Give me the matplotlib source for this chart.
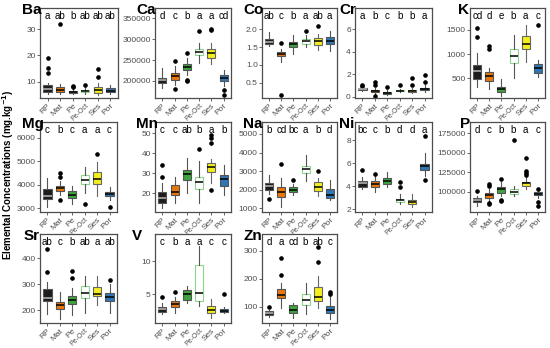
import matplotlib
matplotlib.use("Agg")
import matplotlib.pyplot as plt
from matplotlib.ticker import FormatStrFormatter

plt.rcParams['font.family'] = ['Liberation Sans', 'DejaVu Sans']

groups = ["RP", "Mat", "Pe", "Pe-Oct", "Ses", "Por"]

# box stats per group: [whisker low, q1, median, q3, whisker high]
ba_box = [[5.5, 6.2, 7.4, 8.7, 9.5], [5.5, 6.2, 7.0, 7.8, 9.0], [5.3, 5.8, 6.1, 6.6, 7.5],
          [5.5, 5.9, 6.4, 7.0, 8.0], [5.0, 5.8, 6.8, 8.0, 9.5], [5.2, 5.9, 6.6, 7.6, 8.8]]
ba_out = [[13.4, 15.1, 19.1], [31.9], [7.8, 8.3], [8.8], [11.8, 14.8], []]
ba_sig = ["a", "ab", "b", "ab", "ab", "ab"]

ca_box = [[182000, 195000, 201000, 208000, 230000], [190000, 203000, 211000, 220000, 235000],
          [215000, 227000, 234000, 240000, 255000], [243000, 262000, 269000, 276000, 292000],
          [240000, 256000, 266000, 276000, 290000], [188000, 200000, 207000, 215000, 226000]]
ca_out = [[], [248000, 180000], [266000, 203000, 199000], [320000], [322000, 325000], [178000, 167000]]
ca_sig = ["d", "c", "b", "a", "a", "cd"]

co_box = [[1.52, 1.58, 1.65, 1.72, 1.92], [1.08, 1.25, 1.30, 1.36, 1.45], [1.32, 1.50, 1.58, 1.65, 1.85],
          [1.50, 1.60, 1.66, 1.72, 1.83], [1.42, 1.55, 1.67, 1.77, 1.88], [1.40, 1.60, 1.68, 1.78, 1.95]]
co_out = [[], [1.62, 0.15], [], [1.94], [2.1], []]
co_sig = ["ab", "c", "b", "a", "ab", "a"]

cr_box = [[0.50, 0.60, 0.68, 0.75, 0.90], [0.20, 0.40, 0.50, 0.60, 0.80], [0.15, 0.25, 0.35, 0.45, 0.60],
          [0.40, 0.48, 0.52, 0.58, 0.70], [0.30, 0.40, 0.50, 0.60, 0.80], [0.40, 0.60, 0.70, 0.80, 1.00]]
cr_out = [[0.95, 1.0], [1.3, 1.0, 0.1], [0.85], [1.0], [1.7, 1.0], [1.9, 1.3]]
cr_sig = ["a", "b", "c", "b", "b", "a"]

k_box = [[320, 480, 650, 780, 1020], [280, 440, 550, 640, 720], [130, 220, 270, 330, 490],
         [500, 820, 970, 1110, 1400], [840, 1100, 1220, 1370, 1600], [520, 620, 710, 790, 880]]
k_out = [[1350, 1550], [1100, 1170], [], [], [], [1600]]
k_sig = ["cd", "d", "e", "b", "a", "c"]

mg_box = [[3050, 3400, 3500, 3800, 4300], [3550, 3750, 3850, 3950, 4150], [3200, 3450, 3580, 3750, 3950],
          [3650, 4050, 4220, 4400, 4750], [3500, 4050, 4250, 4550, 4950], [3350, 3500, 3600, 3680, 3900]]
mg_out = [[], [4500, 4350, 3350], [], [3200], [5300], [3050]]
mg_sig = ["c", "b", "c", "a", "a", "c"]

mn_box = [[12.5, 15.0, 17.8, 20.5, 25.0], [15.0, 19.2, 20.8, 24.2, 28.0], [20.0, 26.7, 29.5, 31.7, 37.5],
          [15.0, 22.2, 25.8, 28.3, 36.0], [25.0, 30.8, 33.3, 35.0, 37.0], [19.0, 23.7, 27.0, 29.2, 34.0]]
mn_out = [[28.3, 34.2], [], [], [42.0], [45.0, 47.5, 49.0, 21.8], []]
mn_sig = ["c", "c", "ab", "b", "a", "b"]

na_box = [[1750, 2000, 2180, 2350, 2800], [1050, 1625, 1860, 2160, 2650], [1700, 1880, 2000, 2120, 2300],
          [2450, 2900, 3100, 3300, 3850], [1650, 1950, 2150, 2400, 2650], [1450, 1550, 1700, 2050, 2500]]
na_out = [[1500], [3400], [2500], [], [3000], []]
na_sig = ["b", "cd", "bc", "a", "b", "d"]

ni_box = [[3.8, 3.95, 4.3, 4.5, 4.8], [3.5, 3.95, 4.2, 4.43, 4.9], [3.9, 4.17, 4.5, 4.75, 5.2],
          [2.5, 2.63, 2.8, 2.93, 3.3], [2.2, 2.45, 2.65, 2.85, 3.35], [4.9, 5.45, 5.75, 5.97, 6.9]]
ni_out = [[5.4], [5.1], [], [3.95, 4.35], [], [8.35, 4.58]]
ni_sig = ["bc", "c", "b", "d", "d", "a"]

p_box = [[82000, 86300, 89300, 92300, 95000], [87000, 92300, 95700, 97900, 104000],
         [94000, 97900, 103400, 106400, 112000], [95000, 96600, 100000, 103400, 107000],
         [103000, 107700, 110700, 112900, 120000], [92000, 95700, 97400, 99100, 101000]]
p_out = [[101000], [110000, 107000, 86000, 84000], [116000, 90000, 88000], [167000],
         [143000, 126000, 124000, 122000], [104000, 87000, 82000]]
p_sig = ["d", "c", "b", "b", "a", "c"]

sr_box = [[185, 235, 248, 280, 310], [165, 206, 219, 232, 270], [180, 223, 239, 254, 285],
          [190, 245, 265, 293, 330], [220, 254, 262, 290, 330], [190, 235, 252, 267, 300]]
sr_out = [[348, 435], [], [325, 350], [], [], [315]]
sr_sig = ["ab", "c", "b", "ab", "a", "ab"]

v_box = [[2.0, 2.25, 2.75, 3.1, 3.6], [2.2, 3.0, 3.5, 3.9, 4.6], [3.6, 4.1, 5.05, 5.7, 6.3],
         [3.2, 4.0, 5.25, 9.5, 12.3], [1.3, 2.1, 2.6, 3.2, 4.2], [2.1, 2.25, 2.5, 2.75, 3.0]]
v_out = [[4.6], [5.4], [], [], [], [5.1]]
v_sig = ["c", "b", "a", "a", "c", "c"]

zn_box = [[62, 70, 76, 84, 90], [95, 132, 142, 163, 185], [60, 76, 90, 106, 115],
          [75, 106, 124, 144, 185], [95, 120, 136, 171, 210], [55, 76, 88, 102, 140]]
zn_out = [[100], [215, 275], [], [], [260, 315], [145, 152]]
zn_sig = ["d", "a", "cd", "b", "ab", "c"]

fills = ["#1c1c1c", "#e8770e", "#3da33d", "white", "#f5ee1f", "#2f76b5"]
edges = ["#555555", "#555555", "#555555", "#8ed38e", "#666666", "#555555"]
meds = ["#bbbbbb", "black", "black", "black", "black", "black"]

# name, box, outliers, letters, ylim, ticks, fmt, panel px (left, top, right, bottom), title x
panels = [
    ("Ba", ba_box, ba_out, ba_sig, (3.8, 38), [10, 20, 30], "%g", (40, 8, 118, 98), 22),
    ("Ca", ca_box, ca_out, ca_sig, (159000, 375000), [200000, 250000, 300000, 350000], "%d", (155, 8, 231, 98), 136),
    ("Co", co_box, co_out, co_sig, (0.07, 2.6), [0.5, 1.0, 1.5, 2.0], "%.1f", (262, 8, 337, 98), 243),
    ("Cr", cr_box, cr_out, cr_sig, (-0.12, 7.9), [0, 2, 4, 6], "%g", (355, 8, 432, 98), 339),
    ("K", k_box, k_out, k_sig, (93, 1955), [500, 1000, 1500], "%g", (470, 8, 545, 98), 458),
    ("Mg", mg_box, mg_out, mg_sig, (2840, 6670), [3000, 4000, 5000, 6000], "%g", (40, 122, 117, 212), 22),
    ("Mn", mn_box, mn_out, mn_sig, (10.7, 55.7), [20, 30, 40, 50], "%g", (155, 122, 231, 212), 136),
    ("Na", na_box, na_out, na_sig, (800, 5645), [1000, 2000, 3000, 4000, 5000], "%g", (262, 122, 337, 212), 243),
    ("Ni", ni_box, ni_out, ni_sig, (1.77, 9.57), [2, 4, 6, 8], "%g", (355, 122, 432, 212), 339),
    ("P", p_box, p_out, p_sig, (74000, 189500), [100000, 125000, 150000, 175000], "%d", (470, 122, 545, 212), 460),
    ("Sr", sr_box, sr_out, sr_sig, (150, 494), [200, 300, 400], "%g", (40, 234, 117, 323), 24),
    ("V", v_box, v_out, v_sig, (0.6, 14.2), [5, 10], "%g", (155, 234, 231, 323), 132),
    ("Zn", zn_box, zn_out, zn_sig, (42, 360), [100, 200, 300], "%g", (262, 234, 337, 323), 244),
]

W, H = 550, 348
fig = plt.figure(figsize=(W / 100, H / 100), dpi=100)

for name, box, out, sig, ylim, ticks, fmt, (l, t, r, b), tx in panels:
    ax = fig.add_axes([l / W, 1 - b / H, (r - l) / W, (b - t) / H])
    stats = []
    for g, s, fl in zip(groups, box, out):
        stats.append(dict(label=g, whislo=s[0], q1=s[1], med=s[2], q3=s[3], whishi=s[4], fliers=fl))
    res = ax.bxp(stats, widths=0.66, patch_artist=True, showcaps=False,
                 flierprops=dict(marker="o", markersize=2.3, markerfacecolor="black",
                                 markeredgecolor="black"),
                 whiskerprops=dict(color="#555555", linewidth=0.8),
                 medianprops=dict(linewidth=1.1))
    for i, patch in enumerate(res["boxes"]):
        patch.set_facecolor(fills[i])
        patch.set_edgecolor(edges[i])
        patch.set_linewidth(0.8)
        res["medians"][i].set_color(meds[i])
    for i, w in enumerate(res["whiskers"]):
        w.set_color(edges[i // 2] if i // 2 != 3 else "#555555")
    ax.set_ylim(*ylim)
    ax.set_xlim(0.4, 6.6)
    ax.set_yticks(ticks)
    ax.yaxis.set_major_formatter(FormatStrFormatter(fmt))
    ax.tick_params(axis="both", colors="#4d4d4d", labelsize=6, length=2, width=0.6, pad=1)
    ax.set_xticklabels(groups, rotation=45, ha="right", rotation_mode="anchor", fontsize=6)
    ax.get_xticklabels()[3].set_fontsize(5)
    for sp in ax.spines.values():
        sp.set_color("#4d4d4d")
        sp.set_linewidth(0.9)
    for i, s in enumerate(sig):
        ax.text(i + 1, 0.965, s, transform=ax.get_xaxis_transform(), ha="center", va="top",
                fontsize=7, color="black")
    fig.text(tx / W, 1 - (t + 2) / H, name, fontsize=11, fontweight="bold", ha="left", va="center")

fig.text(8 / W, 1 - 175 / H, r"Elemental Concentrations (mg.kg$^{\mathbf{-1}}$)", rotation=90,
         fontsize=7, fontweight="bold", ha="center", va="center")

fig.savefig("out.png", dpi=100)
